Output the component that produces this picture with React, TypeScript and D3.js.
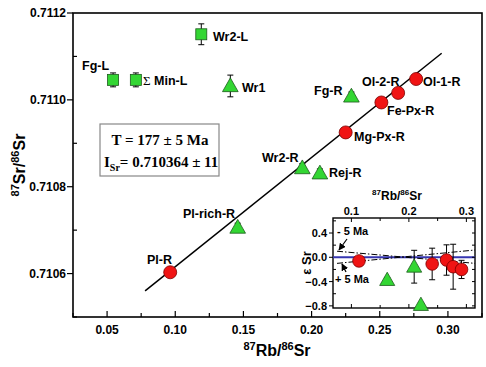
import React from 'react';
import * as d3 from 'd3';

// main isochron points: [label, Rb/Sr, Sr/Sr, error]
const squareNames = ['Fg-L', 'Σ Min-L', 'Wr2-L'];
const squareX = [0.0544, 0.0711, 0.1191];
const squareY = [0.711046, 0.711046, 0.711151];
const squareErr = [0.000016, 0.000016, 0.000024];

const triNames = ['Wr1', 'Fg-R', 'Wr2-R', 'Rej-R', 'Pl-rich-R'];
const triX = [0.1404, 0.2292, 0.1932, 0.2061, 0.1458];
const triY = [0.711032, 0.711008, 0.710843, 0.710831, 0.710706];
const triErr = [0.000025, 0.00001, 0.00001, 0.00001, 0.00001];

const circNames = ['Ol-1-R', 'Ol-2-R', 'Fe-Px-R', 'Mg-Px-R', 'Pl-R'];
const circX = [0.2767, 0.2635, 0.2512, 0.225, 0.0963];
const circY = [0.711048, 0.711016, 0.710994, 0.710925, 0.710603];

const isoX = [0.0779, 0.2954];
const ageMa = 177;
const initialSr = 0.710364;

const xTicks = [0.05, 0.1, 0.15, 0.2, 0.25, 0.3];
const yTicks = [0.7106, 0.7108, 0.711, 0.7112];

// inset epsilon Sr
const insCircX = [0.1132, 0.2405, 0.2655, 0.277, 0.2916];
const insCircY = [-0.06, -0.11, -0.045, -0.155, -0.2];
const insCircErr = [0.03, 0.26, 0.25, 0.37, 0.15];
const insTriX = [0.1623, 0.2092, 0.2209];
const insTriY = [-0.374, -0.155, -0.785];
const insTriErr = [0.04, 0.27, 0.03];
const envX = [0.075, 0.315];
const envMinus = [0.1, -0.1];
const envPlus = [-0.1, 0.12];
const insXTicks = [0.1, 0.2, 0.3];
const insYTicks = [0.4, 0.0, -0.4, -0.8];

const GREEN = '#33d633';
const RED = '#f01414';
const SANS = 'Liberation Sans, Arial, sans-serif';

const tri = (cx: number, cy: number, s: number) =>
  `M${cx},${cy - s * 0.6}L${cx + s * 0.58},${cy + s * 0.42}L${cx - s * 0.58},${cy + s * 0.42}Z`;

const ErrBar = ({ x, y1, y2 }: { x: number; y1: number; y2: number }) => (
  <g stroke="#000" strokeWidth={1}>
    <line x1={x} x2={x} y1={y1} y2={y2} />
    <line x1={x - 3} x2={x + 3} y1={y1} y2={y1} />
    <line x1={x - 3} x2={x + 3} y1={y2} y2={y2} />
  </g>
);

export default function App() {
  const x = d3.scaleLinear().domain([0.025, 0.325]).range([73, 482]);
  const y = d3.scaleLinear().domain([0.7105, 0.7112]).range([317, 13]);
  const slope = Math.exp(1.42e-11 * ageMa * 1e6) - 1;
  const iso = d3
    .line<number>()
    .x((d) => x(d))
    .y((d) => y(initialSr + slope * d));

  const xi = d3.scaleLinear().domain([0.068, 0.315]).range([333, 475]);
  const yi = d3.scaleLinear().domain([-0.835, 0.647]).range([308, 218]);
  const envLine = d3
    .line<number>()
    .x((_, i) => xi(envX[i]))
    .y((d) => yi(d));

  const xMinor = d3.range(0.025, 0.326, 0.025);
  const yMinor = d3.range(0.7105, 0.71121, 0.0001);
  const xiMinor = d3.range(0.1, 0.31, 0.05);
  const yiMinor = d3.range(-0.8, 0.61, 0.2);

  const labels: [string, number, number][] = [
    ['Fg-L', 82, 70],
    ['Wr2-L', 213, 41],
    ['Wr1', 242, 92],
    ['Fg-R', 314, 95],
    ['Ol-2-R', 362, 86],
    ['Ol-1-R', 423, 86],
    ['Fe-Px-R', 387, 115],
    ['Mg-Px-R', 354, 141],
    ['Wr2-R', 262, 162],
    ['Rej-R', 329, 177],
    ['Pl-rich-R', 183, 218],
    ['Pl-R', 147, 264],
  ];

  return (
    <div style={{ position: 'fixed', left: 0, top: 0 }}>
      <svg width={486} height={367} style={{ display: 'block', background: '#fff' }} fontFamily={SANS}>
        {/* isochron */}
        <path d={iso(isoX) || ''} stroke="#000" strokeWidth={1.5} fill="none" />

        {/* axes frame */}
        <rect x={73} y={13} width={409} height={304} fill="none" stroke="#000" strokeWidth={1.6} />
        {xMinor.map((t, i) => (
          <line key={'xm' + i} x1={x(t)} x2={x(t)} y1={317} y2={i % 2 === 1 ? 311 : 313} stroke="#000" strokeWidth={1.2} />
        ))}
        {yMinor.map((t, i) => (
          <line key={'ym' + i} x1={73} x2={i % 2 === 1 ? 67 : 77} y1={y(t)} y2={y(t)} stroke="#000" strokeWidth={1.2} />
        ))}
        {xTicks.map((t) => (
          <text key={'xt' + t} x={x(t)} y={334} textAnchor="middle" fontSize={12} fontWeight="bold">
            {d3.format('.2f')(t)}
          </text>
        ))}
        {yTicks.map((t) => (
          <text key={'yt' + t} x={66} y={y(t) + 4} textAnchor="end" fontSize={12} fontWeight="bold">
            {d3.format('.4f')(t)}
          </text>
        ))}
        <text x={277} y={356} textAnchor="middle" fontSize={16} fontWeight="bold">
          <tspan fontSize={11} dy={-6}>87</tspan>
          <tspan dy={6}>Rb/</tspan>
          <tspan fontSize={11} dy={-6}>86</tspan>
          <tspan dy={6}>Sr</tspan>
        </text>
        <text transform="translate(25,165) rotate(-90)" textAnchor="middle" fontSize={16} fontWeight="bold">
          <tspan fontSize={11} dy={-6}>87</tspan>
          <tspan dy={6}>Sr/</tspan>
          <tspan fontSize={11} dy={-6}>86</tspan>
          <tspan dy={6}>Sr</tspan>
        </text>

        {/* age box */}
        <rect x={100} y={124} width={119} height={52} fill="#fff" stroke="#888" strokeWidth={1.2} />
        <text x={160} y={145} textAnchor="middle" fontFamily="Liberation Serif, Times New Roman, serif" fontWeight="bold" fontSize={15}>
          T = 177 ± 5 Ma
        </text>
        <text x={104} y={167} fontFamily="Liberation Serif, Times New Roman, serif" fontWeight="bold" fontSize={15}>
          I<tspan fontSize={10} dy={4}>Sr</tspan>
          <tspan dy={-4}>= 0.710364 ± 11</tspan>
        </text>

        {/* squares */}
        {squareX.map((v, i) => (
          <g key={'sq' + i}>
            <ErrBar x={x(v)} y1={y(squareY[i] + squareErr[i])} y2={y(squareY[i] - squareErr[i])} />
            <rect x={x(v) - 5.5} y={y(squareY[i]) - 5.5} width={11} height={11} fill={GREEN} stroke="#1d5a1d" strokeWidth={0.8} />
          </g>
        ))}
        <text x={143} y={85} fontSize={12.5} fontWeight="bold">
          <tspan fontFamily="Liberation Serif, serif" fontWeight="normal" fontSize={13}>Σ</tspan> Min-L
        </text>

        {/* triangles */}
        {triX.map((v, i) => (
          <g key={'tr' + i}>
            <ErrBar x={x(v)} y1={y(triY[i] + triErr[i])} y2={y(triY[i] - triErr[i])} />
            <path d={tri(x(v), y(triY[i]), 13.5)} fill={GREEN} stroke="#1d5a1d" strokeWidth={0.8} />
          </g>
        ))}

        {/* circles */}
        {circX.map((v, i) => (
          <circle key={'c' + i} cx={x(v)} cy={y(circY[i])} r={6.5} fill={RED} stroke="#7a0000" strokeWidth={0.8} />
        ))}

        {labels.map(([t, lx, ly]) => (
          <text key={t} x={lx} y={ly} fontSize={12.5} fontWeight="bold">
            {t}
          </text>
        ))}

        {/* inset */}
        <rect x={333} y={218} width={142} height={90} fill="#fff" stroke="#000" strokeWidth={1.4} />
        <line x1={333} x2={475} y1={yi(0)} y2={yi(0)} stroke="#3636b0" strokeWidth={2} />
        <path d={envLine(envMinus) || ''} stroke="#000" strokeWidth={1} strokeDasharray="6,2,1.5,2" fill="none" />
        <path d={envLine(envPlus) || ''} stroke="#000" strokeWidth={1} strokeDasharray="6,2,1.5,2" fill="none" />
        {xiMinor.map((t, i) => (
          <g key={'xim' + i} stroke="#000" strokeWidth={1}>
            <line x1={xi(t)} x2={xi(t)} y1={218} y2={i % 2 === 0 ? 222 : 221} />
            <line x1={xi(t)} x2={xi(t)} y1={308} y2={i % 2 === 0 ? 304 : 305} />
          </g>
        ))}
        {yiMinor.map((t, i) => (
          <g key={'yim' + i} stroke="#000" strokeWidth={1}>
            <line x1={333} x2={i % 2 === 0 ? 329 : 336} y1={yi(t)} y2={yi(t)} />
            <line x1={475} x2={472} y1={yi(t)} y2={yi(t)} />
          </g>
        ))}
        {insXTicks.map((t) => (
          <text key={'ixt' + t} x={xi(t)} y={215} textAnchor="middle" fontSize={11} fontWeight="bold">
            {d3.format('.1f')(t)}
          </text>
        ))}
        {insYTicks.map((t) => (
          <text key={'iyt' + t} x={327} y={yi(t) + 4} textAnchor="end" fontSize={11} fontWeight="bold">
            {d3.format('.1f')(t)}
          </text>
        ))}
        <text x={397} y={200} textAnchor="middle" fontSize={12} fontWeight="bold">
          <tspan fontSize={8} dy={-5}>87</tspan>
          <tspan dy={5}>Rb/</tspan>
          <tspan fontSize={8} dy={-5}>86</tspan>
          <tspan dy={5}>Sr</tspan>
        </text>
        <text transform="translate(311,263) rotate(-90)" textAnchor="middle" fontSize={13} fontWeight="bold">
          ε Sr
        </text>

        {insTriX.map((v, i) => (
          <g key={'it' + i}>
            <ErrBar x={xi(v)} y1={yi(insTriY[i] + insTriErr[i])} y2={yi(insTriY[i] - insTriErr[i])} />
            <path d={tri(xi(v), yi(insTriY[i]), 13)} fill={GREEN} stroke="#1d5a1d" strokeWidth={0.8} />
          </g>
        ))}
        {insCircX.map((v, i) => (
          <g key={'ic' + i}>
            <ErrBar x={xi(v)} y1={yi(insCircY[i] + insCircErr[i])} y2={yi(insCircY[i] - insCircErr[i])} />
            <circle cx={xi(v)} cy={yi(insCircY[i])} r={6.3} fill={RED} stroke="#7a0000" strokeWidth={0.8} />
          </g>
        ))}

        <text x={337} y={235} fontSize={11} fontWeight="bold">- 5 Ma</text>
        <text x={335} y={283} fontSize={11} fontWeight="bold">+ 5 Ma</text>
        <defs>
          <marker id="ah" viewBox="0 0 10 10" refX={9} refY={5} markerWidth={6} markerHeight={6} orient="auto">
            <path d="M0,0L10,5L0,10Z" fill="#000" />
          </marker>
        </defs>
        <line x1={347} y1={239} x2={339} y2={250} stroke="#000" strokeWidth={1.2} markerEnd="url(#ah)" />
        <line x1={346} y1={272} x2={342} y2={264} stroke="#000" strokeWidth={1.2} markerEnd="url(#ah)" />
      </svg>
    </div>
  );
}
